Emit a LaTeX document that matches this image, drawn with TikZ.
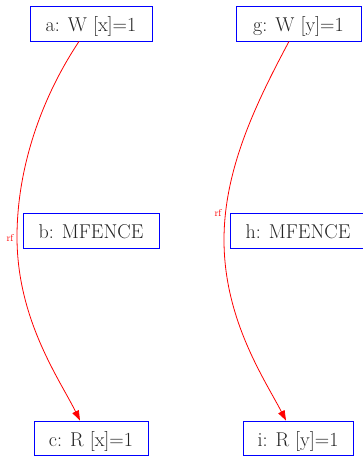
\documentclass[tikz,border=0pt]{standalone}
\usetikzlibrary{arrows.meta,calc}
\definecolor{txtgray}{RGB}{35,35,35}
\definecolor{boxblue}{RGB}{0,0,255}
\begin{document}
\begin{tikzpicture}[x=1pt,y=-1pt,
  ev/.style={draw=boxblue, line width=0.9pt, text=txtgray, font=\fontsize{20}{24}\selectfont, minimum height=35pt, inner sep=0pt, text height=18pt, text depth=2pt},
  rfedge/.style={draw=red, line width=0.8pt, -{Triangle[length=10pt,width=7pt]}},
  rflab/.style={text=red, font=\fontsize{10}{12}\selectfont, inner sep=1pt}]
\useasboundingbox (0,0) rectangle (362,458);
\node[ev, minimum width=122pt] (a) at (91,23.5) {a: W [x]=1};
\node[ev, minimum width=136pt] (b) at (91,230.5) {b: MFENCE};
\node[ev, minimum width=114pt, minimum height=34pt] (c) at (91,438) {c: R [x]=1};
\node[ev, minimum width=125pt] (g) at (298.5,23.5) {g: W [y]=1};
\node[ev, minimum width=136pt] (h) at (298,230.5) {h: MFENCE};
\node[ev, minimum width=110pt, minimum height=34pt] (i) at (298,438) {i: R [y]=1};
\coordinate (a1) at ($(a.south)+(-12,0)$);
\coordinate (c1) at ($(c.north)+(-11,0)$);
\coordinate (m1) at (17,237);
\coordinate (g1) at ($(g.south)+(-9.5,0)$);
\coordinate (i1) at ($(i.north)+(-12,0)$);
\coordinate (m2) at (224,240);
\draw[rfedge] (a1) .. controls (40,100) and (17,170) .. (m1) .. controls (17,320) and (60,380) .. (c1);
\draw[rfedge] (g1) .. controls (255,105) and (224,170) .. (m2) .. controls (224,320) and (265,380) .. (i1);
\node[rflab] (l1) at (10,238) {rf};
\node[rflab] (l2) at (218,213) {rf};
\end{tikzpicture}
\end{document}
